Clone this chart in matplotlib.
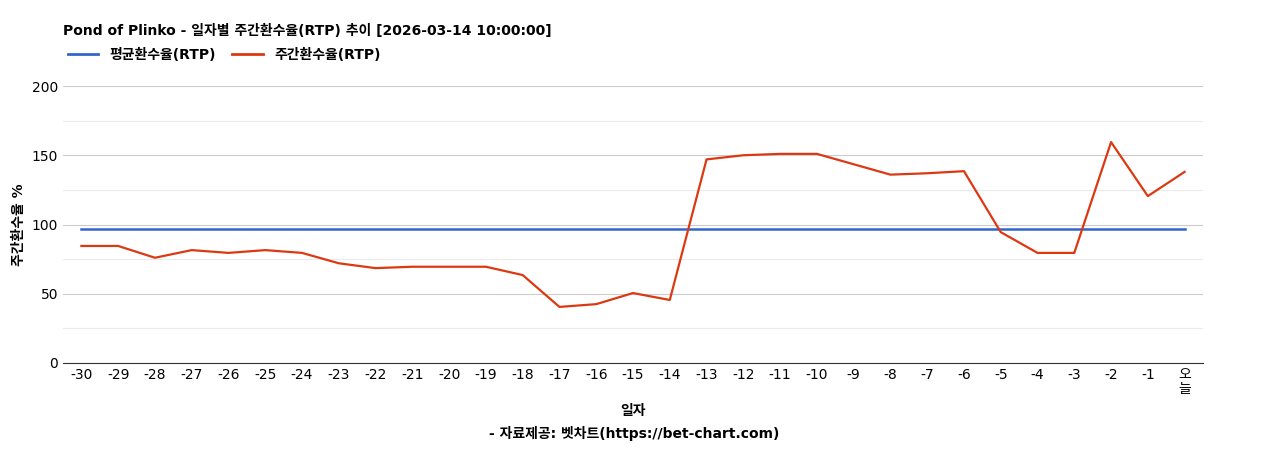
import matplotlib
matplotlib.use("Agg")
import matplotlib.pyplot as plt

plt.rcParams['font.family'] = ['DejaVu Sans', 'Noto Sans CJK KR']

labels = [str(i) for i in range(-30, 0)] + ["오\n늘"]
weekly = [84.5, 84.5, 76, 81.5, 79.5, 81.5, 79.5, 72, 68.5, 69.5, 69.5, 69.5, 63.5,
          40.5, 42.5, 50.5, 45.5, 147, 150, 151, 151, 143.5, 136, 137, 138.5,
          94.5, 79.5, 79.5, 159.5, 120.5, 138]
avg = [96.7] * len(labels)

fig = plt.figure(figsize=(12.68, 4.5), dpi=100)
ax = fig.add_axes([63/1268, 1-363/450, 1140/1268, 277/450])
x = list(range(len(labels)))
ax.plot(x, avg, color='#3366cc', lw=1.8)
ax.plot(x, weekly, color='#dc3912', lw=1.6)
ax.set_xlim(-0.5, len(labels) - 0.5)
ax.set_ylim(0, 200)
ax.set_yticks([0, 50, 100, 150, 200])
ax.set_yticks([25, 75, 125, 175], minor=True)
ax.grid(axis='y', which='major', color='#cccccc', lw=0.8)
ax.grid(axis='y', which='minor', color='#ebebeb', lw=0.8)
ax.tick_params(axis='y', which='both', length=0, labelsize=10)
ax.tick_params(axis='x', length=0, labelsize=10)
ax.set_xticks(x)
ax.set_xticklabels(labels, linespacing=1.0, rotation=0)
for t in ax.get_xticklabels():
    t.set_multialignment('center')
for s in ['top', 'right', 'left']:
    ax.spines[s].set_visible(False)
ax.spines['bottom'].set_color('#333333')
ax.set_axisbelow(True)
ax.set_ylabel('주간환수율 %', fontsize=10, fontweight='bold')
ax.set_xlabel('일자', fontsize=10, fontweight='bold', labelpad=6)
fig.text(0.5, 12/450, '- 자료제공: 벳차트(https://bet-chart.com)', ha='center', fontsize=10, fontweight='bold')
fig.text(63/1268, 1-31/450, 'Pond of Plinko - 일자별 주간환수율(RTP) 추이 [2026-03-14 10:00:00]',
         fontsize=10, fontweight='bold', va='center')
from matplotlib.lines import Line2D
h = [Line2D([], [], color='#3366cc', lw=2), Line2D([], [], color='#dc3912', lw=2)]
fig.legend(h, ['평균환수율(RTP)', '주간환수율(RTP)'], loc='center left',
           bbox_to_anchor=(55/1268, 1-55/450), ncol=2, frameon=False,
           prop={'size': 10, 'weight': 'bold'}, handlelength=2.2, columnspacing=1.2)
fig.savefig('out.png')
